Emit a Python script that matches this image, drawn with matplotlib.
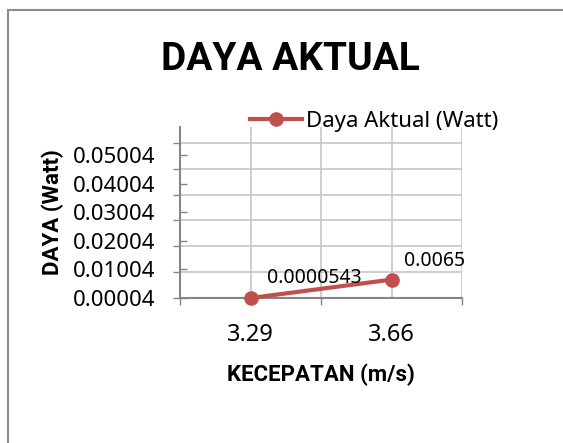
import matplotlib
matplotlib.use('Agg')
import matplotlib.pyplot as plt
from matplotlib.patches import Rectangle
from matplotlib.ticker import FixedLocator, NullFormatter

### Data
categories = ['3.29', '3.66']
daya = [0.0000543, 0.0065]
data_labels = ['0.0000543', '0.0065']
y_tick_values = [0.00004, 0.01004, 0.02004, 0.03004, 0.04004, 0.05004]
y_tick_labels = ['0.00004', '0.01004', '0.02004', '0.03004', '0.04004', '0.05004']
y_grid_values = [0.0, 0.00906, 0.01812, 0.02718, 0.03624, 0.0453, 0.05436]

### Styles
line_color = '#c0504d'
grid_color = '#c6c6c6'
axis_color = '#868686'
bold_font = ['Roboto', 'DejaVu Sans']
num_font = ['Noto Sans', 'DejaVu Sans']

fig = plt.figure(figsize=(5.63, 4.43), dpi=100)
W, H = 563, 443

# chart border (cropped on right/bottom)
fig.patches.append(Rectangle((8/W, -0.1), 1.2, 1 - 10/H + 0.1, transform=fig.transFigure,
                             fill=False, edgecolor='#8c8c8c', linewidth=1.5))

ax = fig.add_axes([180/W, 1 - 298.2/H, 282/W, 171.6/H])

x_pos = [1, 3]
ax.plot(x_pos, daya, '-o', color=line_color, linewidth=3, markersize=9.5,
        label='Daya Aktual (Watt)', zorder=5, clip_on=False)

ax.set_xlim(0, 4)
ax.set_ylim(0, 0.06)

# x axis: ticks between categories, labels on categories
ax.xaxis.set_major_locator(FixedLocator([0, 2, 4]))
ax.xaxis.set_major_formatter(NullFormatter())
ax.xaxis.set_minor_locator(FixedLocator(x_pos))
ax.set_xticklabels(categories, minor=True)
ax.tick_params(axis='x', which='major', direction='out', length=5, width=1, color=axis_color)
ax.tick_params(axis='x', which='minor', length=0, pad=18, labelsize=17)
for t in ax.get_xticklabels(minor=True):
    t.set_fontfamily(num_font)

# vertical gridlines
for xv in [0, 1, 2, 3, 4]:
    ax.axvline(xv, color=grid_color, linewidth=1.2, zorder=1)

# y axis: labelled ticks inward, gridlines on separate positions
ax.yaxis.set_major_locator(FixedLocator(y_tick_values))
ax.set_yticklabels(y_tick_labels)
ax.yaxis.set_minor_locator(FixedLocator(y_grid_values))
ax.tick_params(axis='y', which='major', direction='in', length=5, width=1, color=axis_color,
               pad=18, labelsize=16)
ax.tick_params(axis='y', which='minor', direction='out', length=5, width=1, color=axis_color)
for t in ax.get_yticklabels():
    t.set_fontfamily(num_font)
for yv in y_grid_values:
    ax.axhline(yv, color=grid_color, linewidth=1.2, zorder=1)

for s in ['top', 'right']:
    ax.spines[s].set_visible(False)
for s in ['left', 'bottom']:
    ax.spines[s].set_color(axis_color)
    ax.spines[s].set_linewidth(1.5)
    ax.spines[s].set_zorder(3)

# data labels
offsets = [(64, 20), (43, 19)]
for xv, yv, txt, off in zip(x_pos, daya, data_labels, offsets):
    ax.annotate(txt, (xv, yv), xytext=off, textcoords='offset pixels',
                ha='center', va='center', fontsize=14, family=num_font, zorder=6)

ax.set_xlabel('KECEPATAN (m/s)', fontsize=16, fontweight='bold', family=bold_font, labelpad=12)
ax.set_ylabel('DAYA (Watt)', fontsize=16, fontweight='bold', family=bold_font, labelpad=6)

fig.text(290/W, 1 - 59/H, 'DAYA AKTUAL', ha='center', va='center',
         fontsize=28, fontweight='bold', family=bold_font)

leg = ax.legend(loc='center left', bbox_to_anchor=((250 - 180)/282, (298.2 - 121)/171.6),
                frameon=False, prop={'family': num_font, 'size': 16},
                handlelength=2.34, handletextpad=0.2, borderaxespad=0, borderpad=0)

fig.savefig('out.png', dpi=100)
